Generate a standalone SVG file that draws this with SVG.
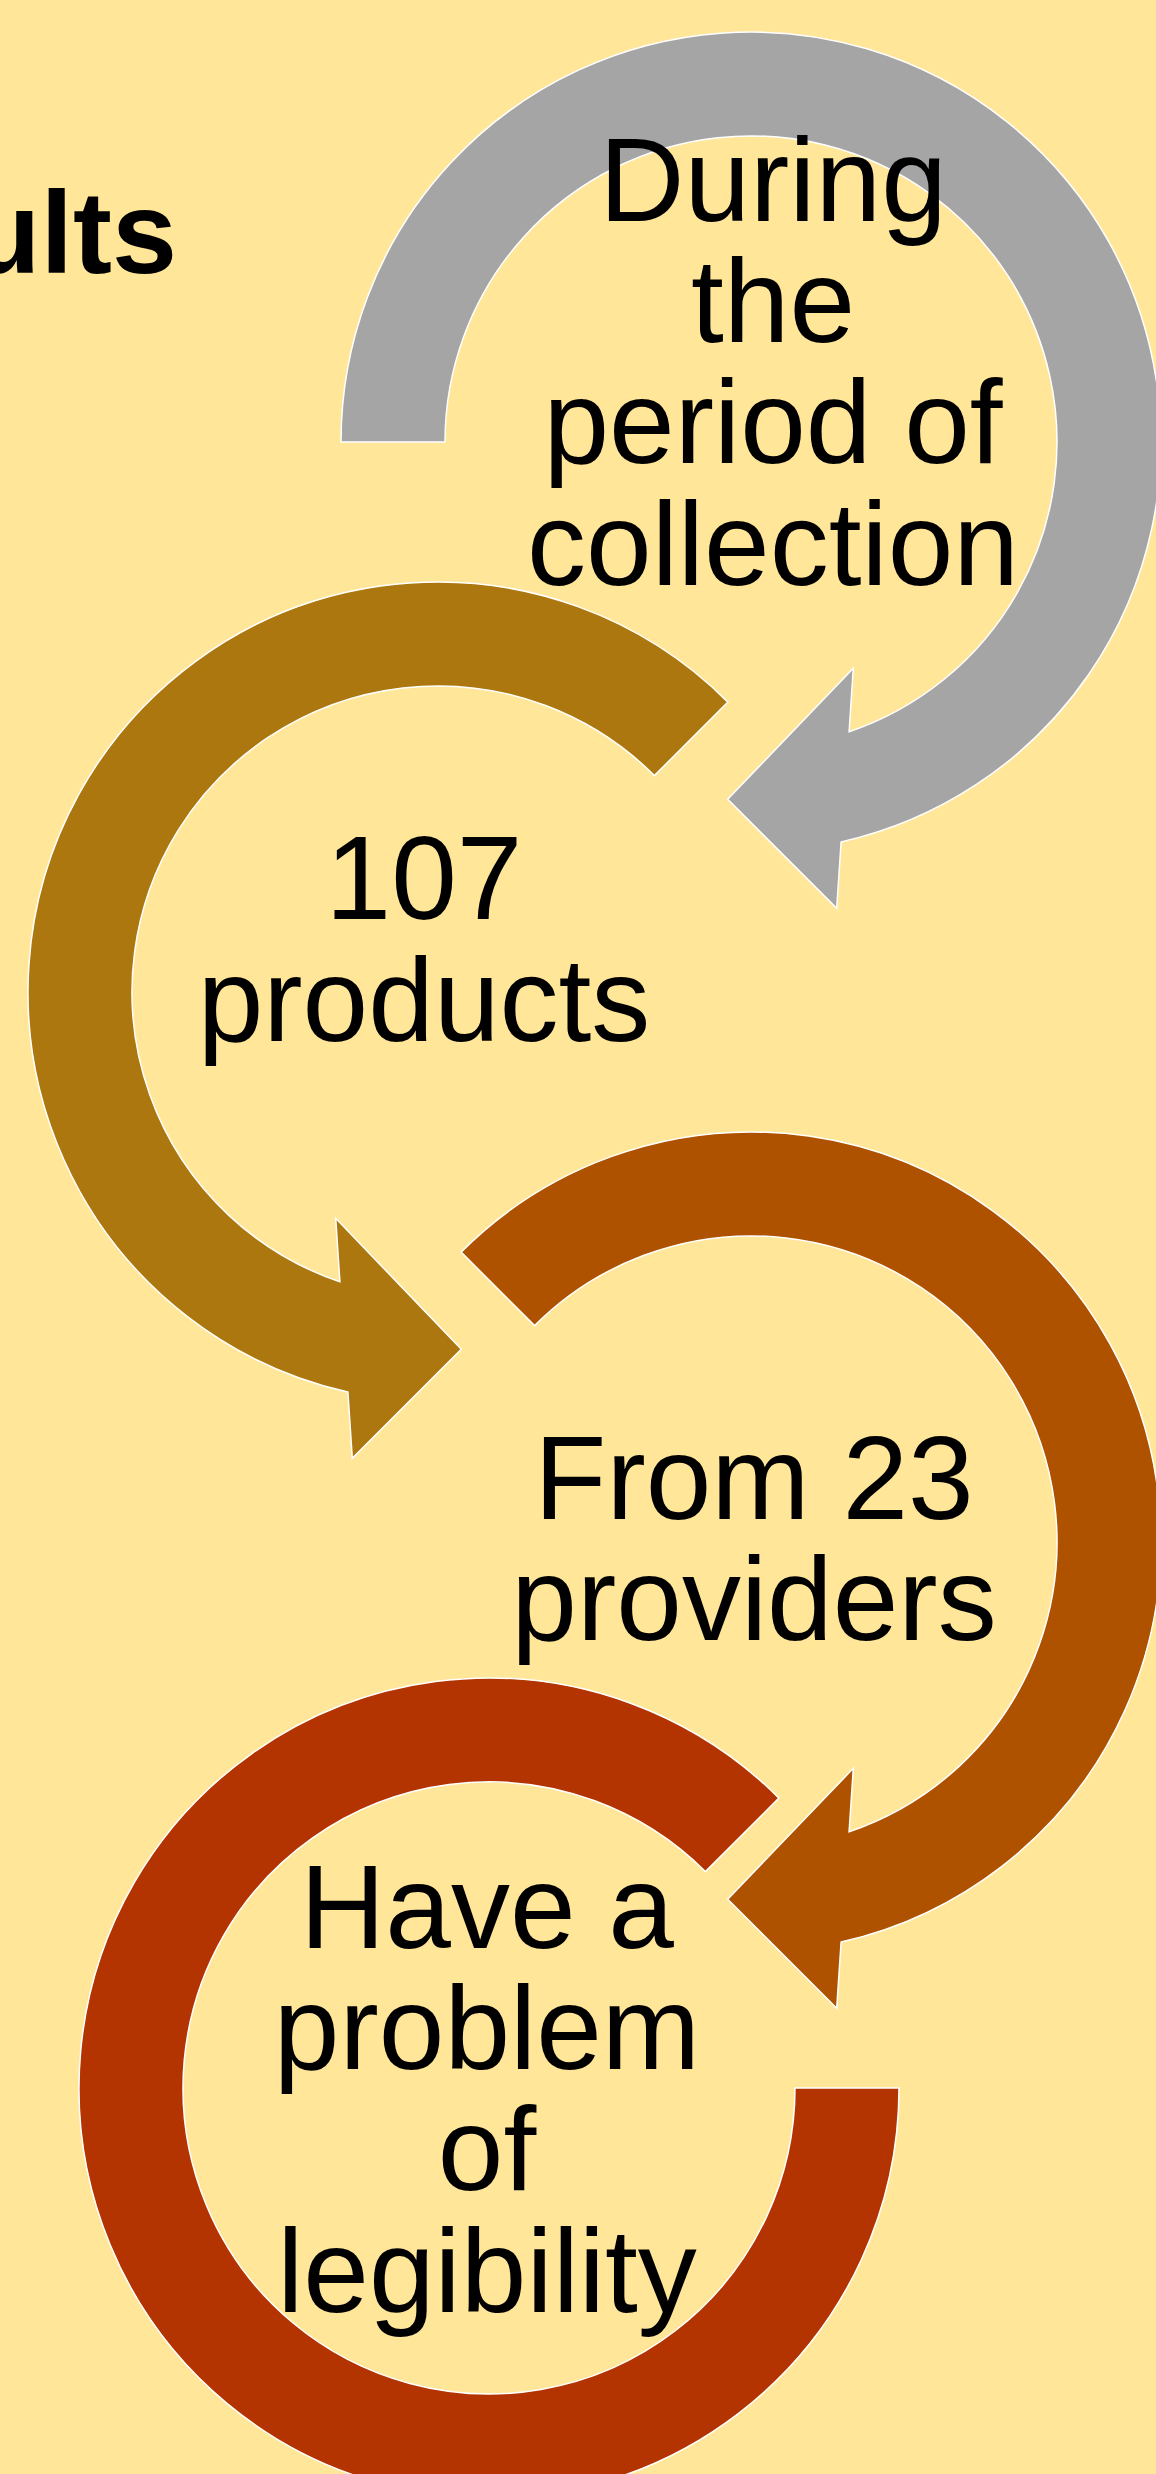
<svg xmlns="http://www.w3.org/2000/svg" width="1156" height="2474" viewBox="0 0 1156 2474">
  <style>
    .ring { stroke: #FFFFFF; stroke-width: 1.5; stroke-linejoin: miter; }
    .label { font-family: "Liberation Sans", Arial, sans-serif; font-size: 118px; fill: #000000; text-anchor: middle; }
    .title { font-family: "Liberation Sans", Arial, sans-serif; font-size: 117px; font-weight: bold; fill: #000000; }
  </style>
  <rect x="0" y="0" width="1156" height="2474" fill="#FFE699"/>

  <text class="title" x="-31" y="273">ults</text>

  <g id="connectors">
    <!-- grey circular arrow, clockwise, centre (751,442) -->
    <path id="arrow-1" class="ring" fill="#A5A5A5"
          d="M341,442 A410,410 0 1 1 841.1,842 L836.7,908.3 L727.7,799.3 L853.3,668.3 L849.1,731.8 A306,306 0 1 0 445,442 Z"/>
    <!-- gold circular arrow, counter-clockwise, centre (438,992) -->
    <path id="arrow-2" class="ring" fill="#AD770F"
          d="M727.9,702.1 A410,410 0 1 0 347.9,1392 L352.3,1458.3 L461.3,1349.3 L335.7,1218.3 L339.9,1281.8 A306,306 0 1 1 654.4,775.6 Z"/>
    <!-- orange circular arrow, clockwise, centre (751,1542) -->
    <path id="arrow-3" class="ring" fill="#AE5200"
          d="M461.1,1252.1 A410,410 0 1 1 841.1,1942 L836.7,2008.3 L727.7,1899.3 L853.3,1768.3 L849.1,1831.8 A306,306 0 1 0 534.6,1325.6 Z"/>
    <!-- red block arc, centre (489,2088) -->
    <path id="arc-4" class="ring" fill="#B33400"
          d="M778.9,1798.1 A410,410 0 1 0 899,2088 L795,2088 A306,306 0 1 1 705.4,1871.6 Z"/>
  </g>

  <g id="node-collection">
    <text class="label" x="773" y="221">During</text>
    <text class="label" x="773" y="342">the</text>
    <text class="label" x="773" y="463">period of</text>
    <text class="label" x="773" y="585">collection</text>
  </g>

  <g id="node-products">
    <text class="label" x="424" y="919">107</text>
    <text class="label" x="424" y="1041">products</text>
  </g>

  <g id="node-providers">
    <text class="label" x="754" y="1519">From 23</text>
    <text class="label" x="754" y="1640">providers</text>
  </g>

  <g id="node-legibility">
    <text class="label" x="487" y="1948">Have a</text>
    <text class="label" x="487" y="2069">problem</text>
    <text class="label" x="487" y="2190">of</text>
    <text class="label" x="487" y="2312">legibility</text>
  </g>
</svg>
